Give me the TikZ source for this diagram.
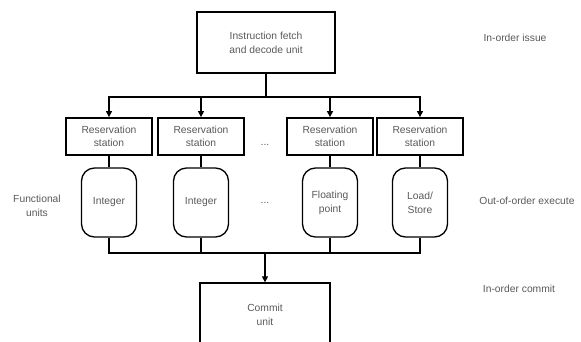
\documentclass[tikz,border=0pt]{standalone}
\usepackage{fontspec}
\setmainfont{Liberation Sans}
\usepackage{tikz}
\usetikzlibrary{arrows.meta}
\definecolor{txtgray}{gray}{0.35}
\tikzset{
  unitbox/.style={draw,line width=1.3pt,align=center,text=txtgray,font=\fontsize{10.3}{14}\selectfont,inner sep=0pt},
  rsbox/.style={unitbox,line width=1.8pt,minimum width=86pt,minimum height=37pt,font=\fontsize{10.3}{13}\selectfont},
  fubox/.style={unitbox,rounded corners=13pt,minimum width=55pt,minimum height=69pt},
  note/.style={text=txtgray,align=center,font=\fontsize{10.3}{14}\selectfont},
  wire/.style={line width=1.2pt},
  arr/.style={wire,-{Triangle[length=6pt,width=6pt]}}
}

\begin{document}
\begin{tikzpicture}[x=1pt,y=-1pt]
    \useasboundingbox (0,0) rectangle (581,341);
    \begin{scope}
    \clip (0,0) rectangle (581,341);

    \node[unitbox,minimum width=138pt,minimum height=61pt] (fetch) at (266,42.5) {Instruction fetch\\and decode unit};

    \node[rsbox] (rs1) at (109,136.5) {Reservation\\station};
    \node[rsbox] (rs2) at (201,136.5) {Reservation\\station};
    \node[rsbox] (rs3) at (330,136.5) {Reservation\\station};
    \node[rsbox] (rs4) at (420,136.5) {Reservation\\station};

    \node[fubox] (fu1) at (109,202.5) {Integer};
    \node[fubox] (fu2) at (201,202.5) {Integer};
    \node[fubox] (fu3) at (330,202.5) {Floating\\point};
    \node[fubox] (fu4) at (420,202.5) {Load/\\Store};

    \node[unitbox,minimum width=130pt,minimum height=64pt] (commit) at (265,315) {Commit\\unit};

    \node[note] (dots1) at (265,145) {...};
    \node[note] (dots2) at (265,203) {...};

    \node[note] (issue) at (515,38) {In-order issue};
    \node[note] (exec) at (527,201) {Out-of-order execute};
    \node[note] (cmt) at (519,289) {In-order commit};
    \node[note] (funits) at (37,206) {Functional\\units};

    \coordinate (bustop) at (266,97);
    \coordinate (busbot) at (265,253);

    \draw[wire] (fetch) -- (bustop);
    \draw[arr] (bustop) -| (rs1);
    \draw[arr] (bustop) -| (rs2);
    \draw[arr] (bustop) -| (rs3);
    \draw[arr] (bustop) -| (rs4);

    \draw[wire] (rs1) -- (fu1);
    \draw[wire] (rs2) -- (fu2);
    \draw[wire] (rs3) -- (fu3);
    \draw[wire] (rs4) -- (fu4);

    \draw[wire] (fu1) |- (busbot);
    \draw[wire] (fu2) |- (busbot);
    \draw[wire] (fu3) |- (busbot);
    \draw[wire] (fu4) |- (busbot);
    \draw[arr] (busbot) -- (commit);
    \end{scope}
\end{tikzpicture}
\end{document}
